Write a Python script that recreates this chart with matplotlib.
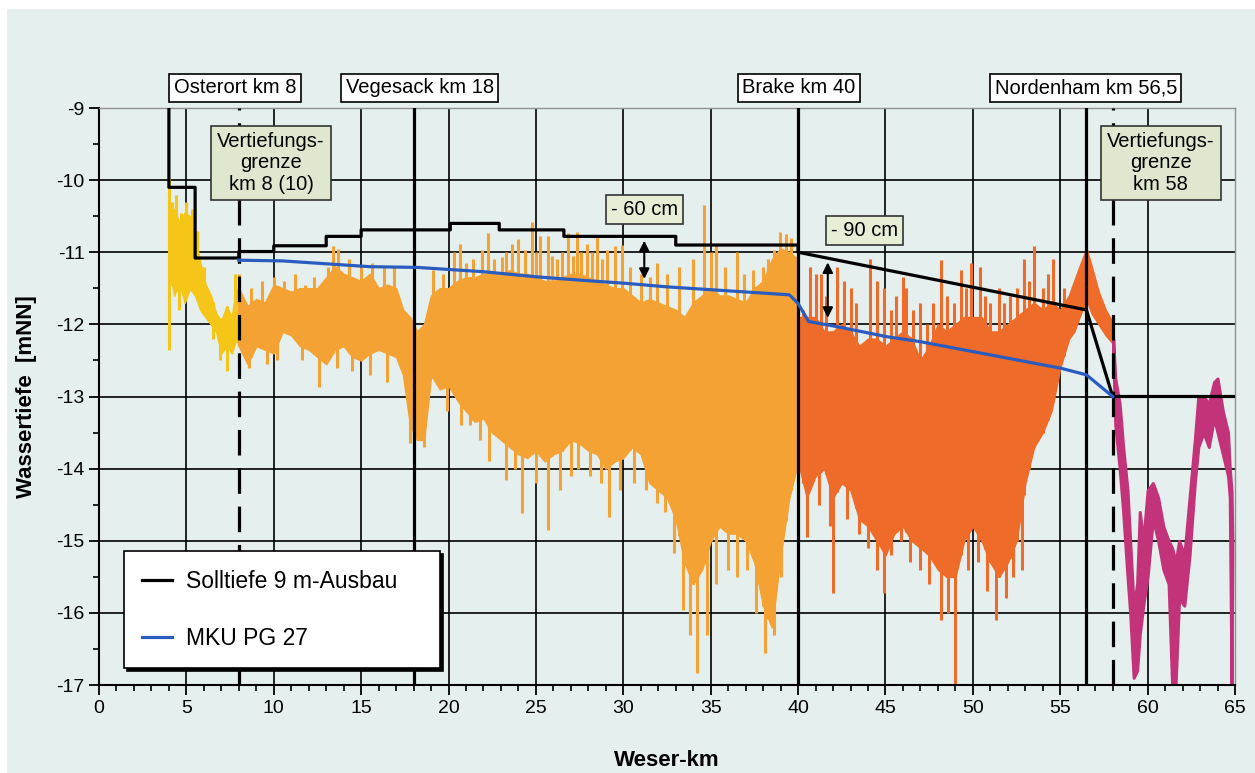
import numpy as np
import matplotlib
matplotlib.use("Agg")
import matplotlib.pyplot as plt
from matplotlib.patches import Rectangle

plt.rcParams['font.family'] = ['Liberation Sans', 'DejaVu Sans']
plt.rcParams['axes.unicode_minus'] = False

yellow_km = [4.0, 4.1, 4.3, 4.6, 4.9, 5.2, 5.5, 5.8, 6.1, 6.4, 6.7, 7.0, 7.3, 7.6, 7.85, 8.0]
yellow_top = [-10.3, -10.5, -10.4, -10.6, -10.45, -10.5, -10.8, -11.15, -11.45, -11.6, -11.85,
              -11.95, -11.75, -11.9, -11.5, -11.6]
yellow_bot = [-11.6, -11.3, -11.6, -11.4, -11.7, -11.5, -11.6, -11.8, -11.9, -12.0, -12.1,
              -12.4, -12.3, -12.4, -12.2, -12.3]

orange_km = [8.0, 8.5, 9.0, 9.5, 10.0, 10.5, 11.0, 11.5, 12.0, 12.5, 13.0, 13.5, 14.0, 14.5,
             15.0, 15.5, 16.0, 16.5, 17.0, 17.4, 17.8, 18.2, 18.6, 19.0, 19.5, 20.0, 20.5, 21.0,
             21.5, 22.0, 22.5, 23.0, 23.5, 24.0, 24.5, 25.0, 25.5, 26.0, 26.5, 27.0, 27.5, 28.0,
             28.5, 29.0, 29.5, 30.0, 30.5, 31.0, 31.5, 32.0, 32.5, 33.0, 33.5, 34.0, 34.5, 35.0,
             35.5, 36.0, 36.5, 37.0, 37.5, 38.0, 38.5, 39.0, 39.5, 40.0]
orange_top = [-11.5, -11.75, -11.65, -11.7, -11.45, -11.5, -11.55, -11.5, -11.5, -11.5, -11.35,
              -11.2, -11.3, -11.35, -11.4, -11.3, -11.5, -11.45, -11.5, -11.8, -11.9, -12.1,
              -12.0, -11.6, -11.5, -11.5, -11.4, -11.35, -11.35, -11.3, -11.3, -11.3, -11.25,
              -11.3, -11.3, -11.35, -11.4, -11.4, -11.35, -11.3, -11.3, -11.35, -11.4, -11.45,
              -11.5, -11.5, -11.6, -11.7, -11.65, -11.7, -11.75, -11.8, -11.9, -11.7, -11.6,
              -11.5, -11.6, -11.6, -11.65, -11.7, -11.5, -11.4, -11.1, -10.95, -11.0, -11.1]
orange_bot = [-12.3, -12.55, -12.3, -12.35, -12.4, -12.1, -12.15, -12.3, -12.35, -12.45, -12.55,
              -12.35, -12.3, -12.45, -12.5, -12.4, -12.35, -12.4, -12.45, -12.7, -13.4, -13.6,
              -13.6, -12.7, -12.9, -12.85, -13.05, -13.2, -13.35, -13.3, -13.5, -13.6, -13.7,
              -13.8, -13.85, -13.75, -13.9, -13.8, -13.75, -13.6, -13.65, -13.75, -13.8, -14.0,
              -13.9, -13.85, -13.7, -13.8, -14.2, -14.3, -14.4, -14.7, -15.3, -15.6, -15.4,
              -15.0, -14.8, -14.9, -14.9, -15.0, -15.3, -15.9, -16.2, -15.2, -14.4, -13.9]

red_km = [40.0, 40.5, 41.0, 41.5, 42.0, 42.5, 43.0, 43.5, 44.0, 44.5, 45.0, 45.5, 46.0, 46.5,
          47.0, 47.5, 48.0, 48.5, 49.0, 49.5, 50.0, 50.5, 51.0, 51.5, 52.0, 52.5, 53.0, 53.5,
          54.0, 54.5, 55.0, 55.5, 55.8, 56.1, 56.5, 56.8, 57.2, 57.6, 57.95]
red_top = [-11.9, -11.9, -11.9, -12.1, -12.1, -12.0, -12.1, -12.3, -12.2, -12.2, -12.3, -12.2,
           -12.1, -12.2, -12.5, -12.3, -12.0, -12.1, -12.0, -11.9, -11.9, -11.9, -12.1, -12.1,
           -12.0, -11.9, -11.8, -11.7, -11.8, -11.7, -11.8, -11.6, -11.4, -11.2, -10.95, -11.2,
           -11.55, -11.8, -11.95]
red_bot = [-13.9, -14.4, -14.1, -14.0, -14.4, -14.2, -14.3, -14.7, -14.8, -15.0, -15.2, -14.9,
           -14.8, -15.0, -15.1, -15.2, -15.4, -15.5, -15.5, -15.0, -14.8, -15.0, -15.3, -15.5,
           -15.3, -15.0, -14.2, -13.7, -13.5, -13.2, -12.6, -12.2, -12.1, -11.9, -11.65, -11.85,
           -12.0, -12.15, -12.25]

magenta_km = [58.03, 58.15, 58.4, 58.6, 58.85, 59.0, 59.2, 59.4, 59.55, 59.75, 60.0, 60.3, 60.6,
              60.9, 61.2, 61.4, 61.6, 61.8, 62.1, 62.4, 62.7, 62.9, 63.2, 63.5, 63.8, 64.0, 64.3,
              64.6, 64.7, 64.8, 64.85]
magenta_top = [-12.2, -12.75, -13.1, -13.7, -14.3, -15.0, -15.9, -15.6, -14.6, -15.0, -14.3,
               -14.2, -14.4, -14.8, -15.0, -15.1, -15.3, -15.0, -15.2, -14.4, -13.6, -13.0,
               -13.0, -13.1, -12.8, -12.75, -13.2, -13.5, -14.0, -14.3, -15.0]
magenta_bot = [-12.4, -13.4, -14.0, -14.6, -15.5, -16.0, -16.9, -16.8, -16.3, -15.9, -15.5,
               -14.7, -15.0, -15.4, -15.6, -17.0, -17.0, -15.8, -15.9, -15.2, -14.2, -13.7,
               -13.5, -13.7, -13.3, -13.5, -13.8, -14.1, -14.4, -17.0, -15.2]

# --- single soundings sticking out of the body (km, tip depth) ---
yellow_up_km = [4.0, 4.2, 4.4, 4.7, 5.0, 5.3, 5.6, 6.0, 7.8]
yellow_up = [-9.97, -10.3, -10.2, -10.45, -10.3, -10.4, -10.7, -11.2, -11.3]
yellow_down_km = [4.0, 4.6, 6.5, 6.9, 7.3]
yellow_down = [-12.36, -11.8, -12.2, -12.5, -12.65]

orange_up_km = [8.0, 8.7, 9.3, 10.0, 10.6, 11.2, 11.8, 12.3, 13.1, 13.4, 13.7, 14.3, 15.0, 15.6,
                16.3, 16.9, 19.1, 19.7, 20.3, 20.66, 21.0, 21.42, 21.9, 22.28, 22.6, 23.04, 23.3,
                23.61, 23.99, 24.37, 24.76, 25.0, 25.23, 25.71, 25.9, 26.19, 26.5, 26.85, 27.1,
                27.33, 27.6, 27.9, 28.2, 28.48, 28.8, 29.05, 29.52, 29.9, 30.38, 31.0, 31.5, 31.9,
                32.5, 33.2, 34.0, 34.6, 35.0, 35.3, 35.8, 36.5, 36.9, 37.4, 38.0, 38.3, 38.6,
                38.96, 39.3, 39.6]
orange_up = [-11.3, -11.5, -11.4, -11.35, -11.4, -11.3, -11.45, -11.35, -11.2, -10.92, -10.95,
             -11.1, -11.2, -11.15, -11.2, -11.2, -11.25, -11.3, -11.0, -10.88, -11.15, -11.1,
             -10.97, -10.74, -11.1, -11.06, -11.0, -10.88, -10.81, -10.97, -10.58, -11.0,
             -10.78, -10.78, -11.05, -11.1, -11.0, -10.74, -11.05, -10.72, -11.0, -10.88, -11.0,
             -10.78, -11.1, -10.97, -10.92, -10.9, -11.2, -11.3, -11.35, -11.15, -11.3, -11.2,
             -11.1, -10.35, -11.0, -10.88, -11.2, -11.0, -11.3, -11.25, -11.2, -11.1, -10.97,
             -10.72, -10.75, -10.8]
orange_down_km = [8.6, 9.6, 10.2, 11.6, 12.6, 13.6, 14.5, 15.5, 16.5, 17.8, 18.6, 19.9, 20.7,
                  21.2, 21.8, 22.3, 23.3, 23.8, 24.2, 25.0, 25.7, 26.4, 27.0, 27.4, 28.1, 28.7,
                  29.2, 29.8, 30.6, 31.3, 31.9, 32.4, 32.9, 33.4, 33.8, 34.2, 34.8, 35.3, 36.0,
                  36.5, 37.1, 37.6, 38.1, 38.6, 39.0]
orange_down = [-12.6, -12.55, -12.5, -12.5, -12.87, -12.6, -12.65, -12.7, -12.8, -13.65, -13.7,
               -13.2, -13.4, -13.4, -13.6, -13.9, -14.16, -14.0, -14.62, -14.2, -14.85, -14.3,
               -14.1, -14.0, -14.1, -14.2, -14.67, -14.3, -14.2, -14.3, -14.48, -14.6, -15.17,
               -15.96, -16.3, -16.84, -16.3, -15.6, -15.4, -15.5, -15.4, -16.0, -16.56, -16.3,
               -15.5]

red_up_km = [40.3, 40.7, 41.05, 41.3, 41.6, 42.2, 42.6, 43.0, 43.3, 44.1, 44.5, 44.9, 45.3, 45.6,
             46.0, 46.2, 46.6, 47.0, 47.4, 47.7, 48.2, 48.5, 48.9, 49.3, 49.6, 49.9, 50.4, 50.7,
             51.0, 51.5, 51.8, 52.1, 52.5, 52.9, 53.2, 53.5, 54.0, 54.3, 54.6, 55.2]
red_up = [-11.8, -11.2, -11.3, -11.3, -11.6, -11.2, -11.4, -11.5, -11.7, -11.1, -11.4, -11.5,
          -11.8, -11.6, -11.35, -11.5, -11.8, -11.7, -12.0, -11.7, -11.11, -11.6, -11.7, -11.25,
          -11.5, -11.15, -11.2, -11.6, -11.7, -11.5, -11.7, -11.6, -11.5, -11.1, -11.4, -10.92,
          -11.5, -11.3, -11.1, -11.5]
red_down_km = [40.5, 41.2, 41.8, 42.0, 42.8, 43.5, 44.0, 44.5, 44.9, 45.3, 45.9, 46.4, 47.0,
               47.5, 48.2, 48.6, 49.0, 49.7, 50.3, 50.8, 51.35, 51.9, 52.3, 52.8]
red_down = [-14.95, -14.5, -14.8, -15.73, -14.7, -14.9, -15.1, -15.4, -15.73, -15.2, -15.0,
            -15.3, -15.4, -15.6, -16.1, -16.0, -16.98, -15.4, -15.3, -15.7, -16.1, -15.8, -15.5,
            -15.4]

# --- target depth (Solltiefe) and MKU PG 27 ---
soll_km = [4, 4, 5.5, 5.5, 8, 8, 10, 10, 13, 13, 15, 15, 20.1, 20.1, 22.9, 22.9, 26.6, 26.6,
           33, 33, 40, 40, 56.5, 58, 65]
soll_depth = [-9, -10.1, -10.1, -11.08, -11.08, -10.99, -10.99, -10.91, -10.91, -10.78, -10.78,
              -10.69, -10.69, -10.6, -10.6, -10.69, -10.69, -10.78, -10.78, -10.9, -10.9, -11.0,
              -11.8, -13.0, -13.0]

mku_km = [8, 10.5, 13, 15.5, 18.2, 22, 25, 27.7, 30.1, 32.5, 35.05, 39.5, 40.0, 40.6, 42.2,
          45.06, 47, 50.06, 55.07, 56.5, 58.0]
mku_depth = [-11.11, -11.12, -11.16, -11.2, -11.21, -11.27, -11.34, -11.39, -11.43, -11.48,
             -11.52, -11.59, -11.71, -11.96, -12.03, -12.17, -12.24, -12.38, -12.61, -12.7, -13.0]

place_km = [18, 40, 56.5]
limit_km = [8, 58]
place_labels = ["Osterort km 8", "Vegesack km 18", "Brake km 40", "Nordenham km 56,5"]
limit_labels = ["Vertiefungs-\ngrenze\nkm 8 (10)", "Vertiefungs-\ngrenze\nkm 58"]
diff_labels = ["- 60 cm", "- 90 cm"]

x_ticks = list(range(0, 66, 5))
y_ticks = list(range(-17, -8))

bg = '#e4efee'


def draw_bed(ax, km, top, bot, up_km, up, down_km, down, color, edge=1.2):
    ''' dense body plus the single soundings that stick out of it '''
    ax.fill_between(km, bot, top, color=color, lw=edge, zorder=2)
    if up_km:
        ax.vlines(up_km, up, np.interp(up_km, km, bot), color=color, lw=2.2, zorder=2)
    if down_km:
        ax.vlines(down_km, np.interp(down_km, km, top), down, color=color, lw=2.2, zorder=2)


fig = plt.figure(figsize=(12.55, 7.73), dpi=100, facecolor='white')
fig.patches.append(Rectangle((7 / 1255, 0), 1, 764 / 773, transform=fig.transFigure,
                             facecolor=bg, edgecolor='none', zorder=-10))
ax = fig.add_axes([99 / 1255, 1 - 685 / 773, 1136 / 1255, 577 / 773])
ax.set_facecolor(bg)

# grid
for v in x_ticks[1:-1]:
    ax.axvline(v, color='black', lw=1.2, zorder=1)
for v in y_ticks[1:-1]:
    ax.axhline(v, color='black', lw=1.2, zorder=1)

draw_bed(ax, yellow_km, yellow_top, yellow_bot, yellow_up_km, yellow_up,
         yellow_down_km, yellow_down, '#f5c518')
draw_bed(ax, orange_km, orange_top, orange_bot, orange_up_km, orange_up,
         orange_down_km, orange_down, '#f4a234')
draw_bed(ax, red_km, red_top, red_bot, red_up_km, red_up, red_down_km, red_down, '#ef6b2a')
draw_bed(ax, magenta_km, magenta_top, magenta_bot, [], [], [], [], '#c2337a', edge=2.2)

# place and limit lines
for k in place_km:
    ax.axvline(k, color='black', lw=2.3, zorder=4)
for k in limit_km:
    ax.axvline(k, color='black', lw=2.3, ls=(0, (8, 4)), zorder=4)

ax.plot(soll_km, soll_depth, color='black', lw=2.3, zorder=5, label='Solltiefe 9 m-Ausbau')
ax.plot(mku_km, mku_depth, color='#2a5cc0', lw=2.3, zorder=5, label='MKU PG 27')

ax.set_xlim(0, 65)
ax.set_ylim(-17, -9)
ax.set_xticks(x_ticks)
ax.set_yticks(y_ticks)
ax.set_xticks(range(0, 66), minor=True)
ax.set_yticks(np.arange(-17, -8.9, 0.5), minor=True)
ax.tick_params(which='major', length=7, width=1.3, labelsize=14, direction='out')
ax.tick_params(which='minor', length=4, width=1.2, direction='out')
for s in ['left', 'bottom']:
    ax.spines[s].set_linewidth(1.5)
for s in ['top', 'right']:
    ax.spines[s].set_color('#909090')
    ax.spines[s].set_linewidth(1)

ax.set_xlabel('Weser-km', fontsize=16, fontweight='bold', labelpad=24)
ax.set_ylabel('Wassertiefe  [mNN]', fontsize=16, fontweight='bold', labelpad=14)

# labels above the chart
for txt, k in zip(place_labels, [7.78, 18.36, 40.05, 56.46]):
    ax.text(k, -8.72, txt, ha='center', va='center', fontsize=14.5, clip_on=False, zorder=6,
            bbox=dict(boxstyle='square,pad=0.22', fc='white', ec='black', lw=1.2))
for txt, k in zip(limit_labels, [9.84, 60.75]):
    ax.text(k, -9.76, txt, ha='center', va='center', fontsize=14.5, linespacing=1.15, zorder=6,
            bbox=dict(boxstyle='square,pad=0.3', fc='#dfe8cf', ec='#333333', lw=1.2))
for txt, k, d in zip(diff_labels, [31.2, 43.8], [-10.41, -10.7]):
    ax.text(k, d, txt, ha='center', va='center', fontsize=14.5, zorder=6,
            bbox=dict(boxstyle='square,pad=0.25', fc='#e6eed6', ec='#333333', lw=1.2))

# double arrows
for k, d0, d1 in [(31.2, -10.84, -11.37), (41.7, -11.14, -11.91)]:
    ax.annotate('', xy=(k, d1), xytext=(k, d0), zorder=6,
                arrowprops=dict(arrowstyle='<|-|>,head_length=0.6,head_width=0.3',
                                color='black', lw=1.5, shrinkA=0, shrinkB=0))

leg = ax.legend(loc='lower left', bbox_to_anchor=(0.022, 0.029, 0.278, 0.196), mode='expand',
                borderaxespad=0, fontsize=16.5, frameon=True, fancybox=False,
                handlelength=1.3, handletextpad=0.6, labelspacing=1.5, borderpad=0.8,
                shadow={'color': 'black', 'alpha': 1})
leg.get_frame().set_edgecolor('black')
leg.get_frame().set_linewidth(1.2)
leg.set_zorder(7)

fig.savefig('out.png', dpi=100, facecolor=fig.get_facecolor())
